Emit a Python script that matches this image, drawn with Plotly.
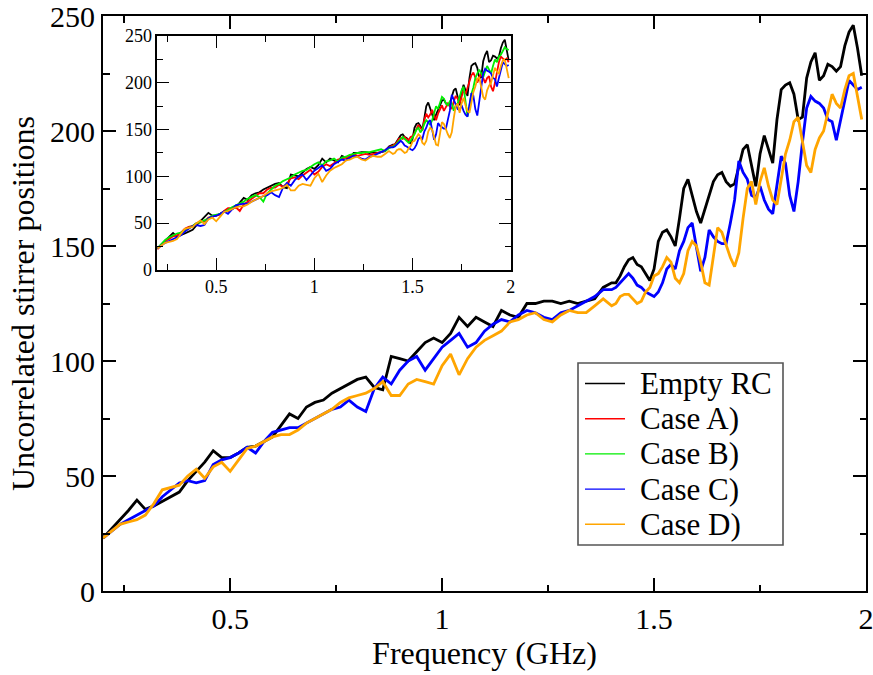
import plotly.graph_objects as go

# ---------------- data ----------------
freq_low = [round(0.20 + 0.02 * i, 2) for i in range(61)]     # 0.20 .. 1.40
freq_high = [round(1.41 + 0.01 * i, 2) for i in range(59)]    # 1.41 .. 1.99
freq = freq_low + freq_high

empty_rc = [
    23, 27, 31, 35, 39.5, 35.5, 37, 39, 41, 43,
    48, 52, 56, 61, 58, 58, 60, 62.5, 63, 65,
    67, 72, 77, 75, 80, 82, 83, 86, 88, 90,
    92, 93, 88.5, 87.5, 102, 101, 100, 104, 108, 110,
    108, 112, 119, 115, 119, 117, 115, 122, 120, 119,
    125, 125, 126, 126, 125, 126, 125, 126, 127, 132,
    134,
    134, 137, 141, 144, 145, 142, 141, 138, 135, 140,
    152, 156, 157, 154, 150, 162, 175, 179, 172, 165,
    160, 166, 171, 178, 181, 182, 178, 176, 177, 185,
    192, 194, 185, 176, 190, 198, 192, 186, 205, 218,
    220, 221, 216, 205, 206, 223, 230, 234, 222, 224,
    229, 228, 226, 228, 237, 243, 246, 236, 224,
]

case_a = [
    22, 27, 31, 33, 36, 37, 40, 44, 46, 47,
    50, 51, 52, 56, 57, 58, 59, 63, 66, 66,
    67, 63, 70, 73, 76, 79, 82, 82, 86, 88,
    88, 91, 89, 92, 98, 99, 97, 101, 104, 107,
    102, 105, 110, 113, 111, 114, 118, 119, 120, 121,
    124, 122, 123, 124, 123, 124, 125, 126, 128, 131,
    133,
    135, 136, 140, 141, 140, 142, 140, 139, 142, 143,
    146, 150, 155, 152, 149, 160, 167, 163, 166, 171,
    165, 160, 167, 172, 176, 170, 174, 178, 175, 172,
    180, 186, 183, 178, 185, 192, 188, 195, 203, 208,
    211, 205, 200, 206, 210, 205, 200, 205, 207, 196,
    191, 200, 212, 222, 228, 226, 224, 226, 222,
]

case_b = [
    23, 28, 32, 35, 37, 39, 40, 42, 45, 47,
    50, 51, 53, 55, 58, 59, 60, 62, 64, 67,
    69, 71, 73, 76, 78, 80, 78, 73, 82, 86,
    90, 92, 95, 97, 99, 102, 104, 106, 107, 110,
    113, 115, 112, 116, 117, 119, 116, 120, 121, 123,
    124, 125, 125, 126, 126, 127, 128, 129, 127, 130,
    132,
    133, 135, 138, 140, 142, 140, 137, 136, 138, 141,
    145, 150, 152, 147, 150, 156, 160, 158, 155, 160,
    168, 175, 172, 180, 185, 183, 178, 176, 180, 178,
    170, 176, 178, 185, 192, 196, 180, 164, 175, 188,
    195, 205, 210, 214, 210, 206, 212, 218, 214, 210,
    218, 225, 222, 228, 230, 235, 238, 236, 235,
]

case_c = [
    23, 26, 29, 31, 33, 35, 37, 41, 44, 47,
    48, 47, 48, 55, 57, 58, 60, 62.5, 60, 65,
    69, 70, 71, 71, 73, 75, 77, 79, 80, 83,
    80, 78, 88, 93, 90, 96, 100, 102, 96, 101,
    106, 109, 112, 106, 108, 113, 116, 118, 117, 120,
    122, 121, 119, 118, 121, 122, 124, 126, 128, 131,
    131,
    132, 134, 136, 138, 136, 133, 132, 130, 129, 128,
    130, 134, 140, 142, 140, 148, 152, 158, 160, 150,
    139, 145, 157, 154, 152, 151, 151, 160, 170, 187,
    182, 179, 172, 171, 176, 170, 166, 164, 176, 189,
    186, 172, 165, 178, 195, 210, 215, 213, 212, 210,
    205, 204, 196, 205, 214, 222, 220, 218, 219,
]

case_d = [
    23, 26, 29, 30, 31, 33, 38, 44, 45, 46,
    50, 53, 49, 54, 56, 52, 57, 62, 63, 65,
    67, 68, 68, 70, 73, 75, 77, 79, 82, 84,
    85, 86, 88, 91, 85, 85, 90, 92, 91, 90,
    98, 103, 94, 101, 106, 109, 111, 113, 117, 118,
    120, 121, 118, 117, 120, 122, 121, 121, 124, 127,
    124,
    125, 128, 129, 129, 127, 125, 126, 130, 132, 137,
    138, 141, 145, 143, 136, 134, 138, 148, 152, 150,
    143, 134, 133, 145, 158, 156, 150, 145, 141, 147,
    162, 175, 178, 168, 178, 184, 176, 170, 168, 180,
    190, 196, 204, 206, 196, 185, 182, 192, 197, 200,
    208, 216, 212, 210, 218, 224, 225, 215, 205,
]

series_names = ["Empty RC", "Case A)", "Case B)", "Case C)", "Case D)"]
series_values = [empty_rc, case_a, case_b, case_c, case_d]
series_colors = ["#000000", "#ff0000", "#00ee00", "#0000ff", "#ffa500"]
main_series = [0, 3, 4]          # drawn in the main panel

x_ticks = [0.5, 1, 1.5, 2]
y_ticks = [0, 50, 100, 150, 200, 250]

# ---------------- figure ----------------
FONT = "Liberation Serif"
W, H = 873, 675
ML, MR, MT, MB = 103, 7, 16, 84

fig = go.Figure()

for i in main_series:
    fig.add_trace(go.Scatter(
        x=freq, y=series_values[i], mode="lines", name=series_names[i],
        line=dict(color=series_colors[i], width=2.8), showlegend=False,
        xaxis="x", yaxis="y"))

for i in range(5):
    fig.add_trace(go.Scatter(
        x=freq, y=series_values[i], mode="lines", name=series_names[i],
        line=dict(color=series_colors[i], width=1.8), showlegend=False,
        xaxis="x2", yaxis="y2"))

axis_common = dict(showgrid=False, zeroline=False, showline=True,
                   linecolor="black", mirror="ticks", ticks="inside",
                   tickcolor="black", automargin=False,
                   ticklabeloverflow="allow")

fig.update_layout(
    width=W, height=H,
    margin=dict(l=ML, r=MR, t=MT, b=MB),
    paper_bgcolor="white", plot_bgcolor="white",
    font=dict(family=FONT, color="black"),
    xaxis=dict(**axis_common, domain=[0, 1], range=[0.2, 2.0],
               tickvals=x_ticks, ticklen=13, tickwidth=1.5, linewidth=2,
               minor=dict(dtick=0.25, tick0=0, ticks="inside", ticklen=6.5,
                          tickwidth=1.5, tickcolor="black"),
               tickfont=dict(size=30, family=FONT),
               title=dict(text="Frequency (GHz)", font=dict(size=32, family=FONT),
                          standoff=8)),
    yaxis=dict(**axis_common, domain=[0, 1], range=[0, 250],
               tickvals=y_ticks, ticklen=13, tickwidth=1.5, linewidth=2,
               minor=dict(dtick=25, tick0=0, ticks="inside", ticklen=6.5,
                          tickwidth=1.5, tickcolor="black"),
               tickfont=dict(size=30, family=FONT),
               title=dict(text="Uncorrelated stirrer positions",
                          font=dict(size=32, family=FONT), standoff=6)),
    xaxis2=dict(**axis_common, anchor="y2", domain=[0.0712, 0.5343],
                range=[0.2, 2.0], tickvals=x_ticks, ticklen=12, tickwidth=1.2,
                linewidth=1.6,
                minor=dict(dtick=0.25, tick0=0, ticks="inside", ticklen=6,
                           tickwidth=1.2, tickcolor="black"),
                tickfont=dict(size=18, family=FONT)),
    yaxis2=dict(**axis_common, anchor="x2", domain=[0.5583, 0.9652],
                range=[0, 250], tickvals=y_ticks, ticklen=12, tickwidth=1.2,
                linewidth=1.6,
                minor=dict(dtick=25, tick0=0, ticks="inside", ticklen=6,
                           tickwidth=1.2, tickcolor="black"),
                tickfont=dict(size=18, family=FONT)),
    showlegend=False,
)

# ---------------- legend box (drawn manually for exact row spacing) ----------------
pw = W - ML - MR
ph = H - MT - MB
def px2x(px):
    return (px - ML) / pw
def py2y(py):
    return (H - MB - py) / ph

box_l, box_r, box_t, box_b = 578, 783, 363, 545
row0, row_step = 383.5, 35.2
line_l, line_r, text_l = 585, 625, 638

fig.add_shape(type="rect", xref="paper", yref="paper",
              x0=px2x(box_l), x1=px2x(box_r), y0=py2y(box_b), y1=py2y(box_t),
              line=dict(color="#555555", width=1.6), fillcolor="white", layer="above")
for k in range(5):
    yy = py2y(row0 + k * row_step)
    fig.add_shape(type="line", xref="paper", yref="paper",
                  x0=px2x(line_l), x1=px2x(line_r), y0=yy, y1=yy,
                  line=dict(color=series_colors[k], width=1.4), layer="above")
    fig.add_annotation(xref="paper", yref="paper", x=px2x(text_l), y=yy,
                       xanchor="left", yanchor="middle", showarrow=False,
                       text=series_names[k],
                       font=dict(size=31, family=FONT, color="black"))

fig.write_html("out.html")
